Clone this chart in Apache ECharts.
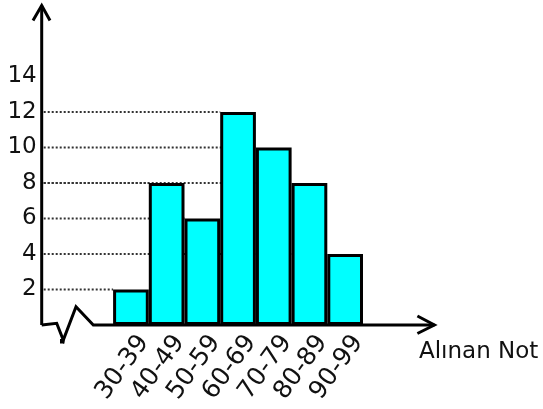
<!DOCTYPE html>
<html><head><meta charset="utf-8">
<script src="https://cdn.jsdelivr.net/npm/echarts@6/dist/echarts.min.js"></script>
<style>html,body{margin:0;padding:0;background:#fff}#c{width:543px;height:409px}</style>
</head><body><div id="c"></div>
<script>
const categories = ['30-39','40-49','50-59','60-69','70-79','80-89','90-99'];
const frequencies = [2, 8, 6, 12, 10, 8, 4];
const yTickLabels = [2, 4, 6, 8, 10, 12, 14];
const axisName = 'Alınan Not';
const leadingGap = 2;   // empty bands before the first class (axis break)
const trailingGap = 2;  // empty bands after the last class
const yMax = 18;

const bandCats = [];
for (let i = 0; i < leadingGap; i++) bandCats.push(' '.repeat(i + 1));
categories.forEach(c => bandCats.push(c));
for (let i = 0; i < trailingGap; i++) bandCats.push(' '.repeat(leadingGap + i + 1));
const nBands = bandCats.length;
const barData = frequencies.map((v, i) => [i + leadingGap, v]);
const labelData = categories.map((c, i) => [i + leadingGap, 0]);

const FONT = 'DejaVu Sans';
const LABEL_ROT = 54;
const chart = echarts.init(document.getElementById('c'));
chart.setOption({
  animation: false,
  backgroundColor: '#fff',
  title: {
    text: axisName, left: 414, top: 336,
    textStyle: { fontSize: 23, fontWeight: 'normal', color: '#111', fontFamily: FONT }
  },
  grid: { left: 41.7, right: 108.6, top: 5.5, bottom: 84, containLabel: false, outerBoundsMode: 'none' },
  xAxis: [{
    type: 'category', data: bandCats, boundaryGap: true,
    axisLine: { show: false }, axisTick: { show: false }, splitLine: { show: false },
    axisLabel: { show: false }
  }, {
    type: 'value', min: 0, max: nBands, show: false
  }],
  yAxis: {
    type: 'value', min: 0, max: yMax, interval: 2,
    axisLine: { show: false }, axisTick: { show: false }, splitLine: { show: false },
    axisLabel: {
      margin: 5, fontSize: 23, color: '#111', fontFamily: FONT,
      formatter: v => yTickLabels.indexOf(v) >= 0 ? String(v) : ''
    }
  },
  series: [{
    type: 'custom', xAxisIndex: 1, z: 1, silent: true,
    data: barData,
    renderItem: (params, api) => {
      const x = api.value(0), v = api.value(1);
      const p0 = api.coord([0, v]), p1 = api.coord([x, v]);
      return { type: 'line', shape: { x1: p0[0] + 2, y1: p0[1], x2: p1[0], y2: p1[1] },
        style: { stroke: '#333', lineWidth: 2, lineDash: [2, 2] } };
    }
  }, {
    type: 'bar', xAxisIndex: 0, z: 2, barWidth: '100%',
    data: barData,
    itemStyle: { color: '#00FFFF', borderColor: '#000', borderWidth: 3 }
  }, {
    type: 'custom', xAxisIndex: 0, z: 4, silent: true, clip: false,
    data: labelData,
    renderItem: (params, api) => {
      const p = api.coord([api.value(0), 0]);
      return { type: 'text', x: p[0] + 13, y: p[1] + 13, rotation: LABEL_ROT * Math.PI / 180,
        style: { text: categories[params.dataIndex], fontSize: 25, fontFamily: FONT, fill: '#111',
          align: 'right', verticalAlign: 'middle' } };
    }
  }, {
    type: 'custom', xAxisIndex: 1, z: 3, silent: true, clip: false,
    data: [[0, 0]],
    renderItem: (params, api) => {
      const o = api.coord([0, 0]);
      const top = api.coord([0, yMax]);
      const end = api.coord([nBands, 0]);
      const st = { stroke: '#000', lineWidth: 3, fill: null, lineJoin: 'miter' };
      return { type: 'group', children: [
        { type: 'line', shape: { x1: o[0], y1: o[1], x2: top[0], y2: top[1] }, style: st },
        { type: 'polyline', shape: { points: [[top[0] - 8.7, top[1] + 15], [top[0], top[1]], [top[0] + 8.3, top[1] + 15]] }, style: st },
        { type: 'polyline', shape: { points: [
          [o[0], o[1]], [o[0] + 15, o[1] - 1.7], [o[0] + 21.6, o[1] + 15],
          [o[0] + 34.3, o[1] - 18.3], [o[0] + 51.6, o[1]], [end[0], end[1]]] }, style: st },
        { type: 'polyline', shape: { points: [[end[0] - 17, end[1] - 9], [end[0], end[1]], [end[0] - 17, end[1] + 8.5]] }, style: st },
        { type: 'rect', shape: { x: o[0] + 18.3, y: o[1] + 14, width: 4.5, height: 4.5 }, style: { fill: '#000' } }
      ]};
    }
  }]
});
</script></body></html>
